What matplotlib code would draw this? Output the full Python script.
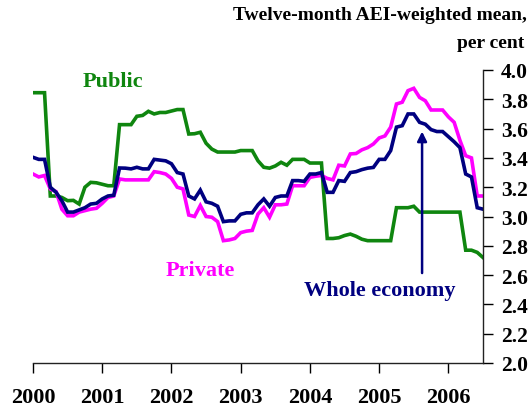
import numpy as np
import matplotlib
matplotlib.use("Agg")
import matplotlib.pyplot as plt

public = [3.845, 3.845, 3.845, 3.14, 3.14, 3.13, 3.108, 3.11, 3.085, 3.20,
          3.233, 3.23, 3.22, 3.21, 3.21, 3.627, 3.627, 3.627, 3.684, 3.69,
          3.718, 3.70, 3.71, 3.71, 3.72, 3.73, 3.73, 3.563, 3.565, 3.575,
          3.50, 3.46, 3.44, 3.44, 3.44, 3.44, 3.45, 3.45, 3.45, 3.38,
          3.336, 3.33, 3.345, 3.37, 3.35, 3.39, 3.39, 3.39, 3.365, 3.365,
          3.365, 2.85, 2.85, 2.855, 2.87, 2.88, 2.865, 2.845, 2.835, 2.835,
          2.835, 2.835, 2.835, 3.06, 3.06, 3.06, 3.07, 3.03, 3.03, 3.03,
          3.03, 3.03, 3.03, 3.03, 3.03, 2.77, 2.77, 2.755, 2.72]
whole = [3.404, 3.39, 3.39, 3.20, 3.165, 3.108, 3.03, 3.03, 3.045, 3.06,
         3.085, 3.09, 3.12, 3.14, 3.145, 3.331, 3.33, 3.325, 3.336, 3.325,
         3.325, 3.39, 3.385, 3.38, 3.36, 3.30, 3.29, 3.14, 3.12, 3.18,
         3.10, 3.09, 3.07, 2.965, 2.97, 2.97, 3.015, 3.025, 3.025, 3.08,
         3.12, 3.07, 3.13, 3.14, 3.14, 3.245, 3.245, 3.24, 3.29, 3.29,
         3.30, 3.165, 3.165, 3.245, 3.24, 3.30, 3.306, 3.32, 3.33, 3.335,
         3.39, 3.39, 3.45, 3.61, 3.62, 3.70, 3.70, 3.643, 3.63, 3.593,
         3.58, 3.58, 3.545, 3.51, 3.47, 3.29, 3.27, 3.06, 3.05]
private = [3.29, 3.27, 3.28, 3.188, 3.17, 3.05, 3.005, 3.005, 3.03, 3.04,
           3.05, 3.056, 3.09, 3.13, 3.14, 3.256, 3.25, 3.25, 3.25, 3.25,
           3.25, 3.306, 3.30, 3.29, 3.26, 3.20, 3.188, 3.01, 3.00, 3.075,
           3.00, 2.995, 2.965, 2.835, 2.84, 2.85, 2.89, 2.90, 2.905, 3.017,
           3.06, 2.995, 3.08, 3.08, 3.085, 3.21, 3.21, 3.21, 3.267, 3.275,
           3.28, 3.26, 3.25, 3.35, 3.345, 3.427, 3.43, 3.455, 3.47, 3.495,
           3.536, 3.55, 3.61, 3.768, 3.78, 3.859, 3.875, 3.813, 3.79, 3.727,
           3.727, 3.727, 3.68, 3.643, 3.52, 3.415, 3.40, 3.14, 3.14]
year_ticks = [2000, 2001, 2002, 2003, 2004, 2005, 2006]
y_ticks = [2.0, 2.2, 2.4, 2.6, 2.8, 3.0, 3.2, 3.4, 3.6, 3.8, 4.0]

t = 2000 + np.arange(len(public)) / 12.0

GREEN = "#0f860f"
PINK = "#ff00ff"
NAVY = "#000080"
FONT = "Liberation Serif"

fig = plt.figure(figsize=(5.3, 4.1), dpi=100)
ax = fig.add_axes([33 / 530, 46 / 410, 450 / 530, 293 / 410])

lw = 2.6
ax.plot(t, public, color=GREEN, lw=lw, solid_joinstyle="miter")
ax.plot(t, private, color=PINK, lw=lw, solid_joinstyle="miter")
ax.plot(t, whole, color=NAVY, lw=lw, solid_joinstyle="miter")

ax.set_xlim(2000, t[-1])
ax.set_ylim(2.0, 4.0)
ax.set_xticks(year_ticks)
ax.set_xticklabels([str(y) for y in year_ticks])
ax.set_yticks(y_ticks)
ax.set_yticklabels([f"{v:.1f}" for v in y_ticks])

for s in ["top", "left"]:
    ax.spines[s].set_visible(False)
for s in ["bottom", "right"]:
    ax.spines[s].set_linewidth(1.0)
    ax.spines[s].set_color("#222222")
ax.yaxis.tick_right()
ax.tick_params(axis="x", direction="out", length=7, width=1.0, pad=10,
               labelsize=16)
ax.tick_params(axis="y", direction="out", length=7, width=1.0, pad=6,
               labelsize=15.5)
for lab in ax.get_xticklabels() + ax.get_yticklabels():
    lab.set_fontfamily(FONT)
    lab.set_fontweight("bold")

ax.text(2001.15, 3.925, "Public", color=GREEN, fontsize=16, fontweight="bold",
        family=FONT, ha="center", va="center")
ax.text(2002.41, 2.635, "Private", color=PINK, fontsize=16, fontweight="bold",
        family=FONT, ha="center", va="center")
ax.text(2005.01, 2.498, "Whole economy", color=NAVY, fontsize=16,
        fontweight="bold", family=FONT, ha="center", va="center")
ax.annotate("", xy=(2005.62, 3.58), xytext=(2005.62, 2.614),
            arrowprops=dict(arrowstyle="-|>", color=NAVY, lw=1.8,
                            mutation_scale=14, shrinkA=0, shrinkB=0))

fig.text(527 / 530, 1 - 16 / 410, "Twelve-month AEI-weighted mean,",
         ha="right", va="center", fontsize=14, fontweight="bold", family=FONT)
fig.text(524 / 530, 1 - 44 / 410, "per cent", ha="right", va="center",
         fontsize=14, fontweight="bold", family=FONT)

fig.savefig("out.png", dpi=100)
